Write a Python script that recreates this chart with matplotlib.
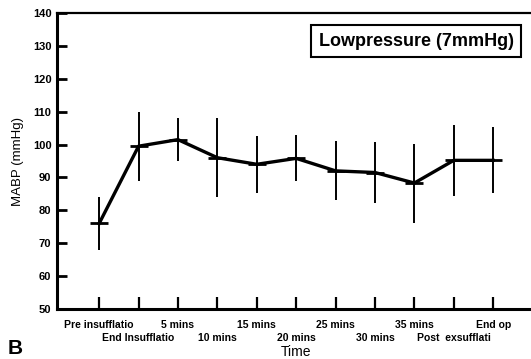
import matplotlib.pyplot as plt
import numpy as np

plt.rcParams['font.family'] = ['Liberation Sans', 'DejaVu Sans']

# data
time_labels = ["Pre insufflatio", "End Insufflatio", "5 mins", "10 mins", "15 mins",
               "20 mins", "25 mins", "30 mins", "35 mins", "Post  exsufflati", "End op"]
mabp = [76, 99.5, 101.5, 96, 94, 95.8, 92, 91.5, 88.3, 95.2, 95.2]
err = [8, 10.5, 6.5, 12, 8.7, 7, 9, 9.2, 12, 10.8, 10]

x = np.arange(len(time_labels))

fig = plt.figure(figsize=(5.31, 3.59), dpi=100)
ax = fig.add_axes([57 / 531, 1 - 309 / 359, 1 - 57 / 531, (309 - 13) / 359])

ax.errorbar(x, mabp, yerr=err, color="black", lw=2.4, elinewidth=1.4, capsize=0,
            marker="_", markersize=13, markeredgewidth=2)

ax.set_xlim(-1.07, 10.96)
ax.set_ylim(50, 140)
ax.set_yticks(range(50, 141, 10))

# alternate the time labels on two rows
ax.set_xticks(x[::2])
ax.set_xticklabels(time_labels[::2], fontsize=7.5, fontweight="bold")
ax.set_xticks(x[1::2], minor=True)
ax.set_xticklabels(time_labels[1::2], minor=True, fontsize=7.5, fontweight="bold")
for lab in ax.get_yticklabels():
    lab.set_fontsize(8)
    lab.set_fontweight("bold")

ax.tick_params(axis="x", which="major", direction="in", length=9, width=1.6, pad=8)
ax.tick_params(axis="x", which="minor", direction="in", length=9, width=1.6, pad=17)
ax.tick_params(axis="y", direction="in", length=7, width=2, pad=4)
ax.spines["right"].set_visible(False)
for s in ["left", "bottom"]:
    ax.spines[s].set_linewidth(2.2)
ax.spines["top"].set_linewidth(1.6)

ax.set_xlabel("Time", fontsize=10, va="top")
ax.xaxis.set_label_coords(0.504, -0.123)
ax.set_ylabel("MABP (mmHg)", fontsize=9.5, labelpad=6)

ax.text(0.758, 0.905, "Lowpressure (7mmHg)", transform=ax.transAxes, fontsize=13,
        fontweight="bold", ha="center", va="center",
        bbox=dict(boxstyle="square,pad=0.42", fc="white", ec="black", lw=1.5))

fig.text(8 / 531, 1 - 348 / 359, "B", fontsize=15, fontweight="bold", va="center")

fig.savefig("out.png", dpi=100)
